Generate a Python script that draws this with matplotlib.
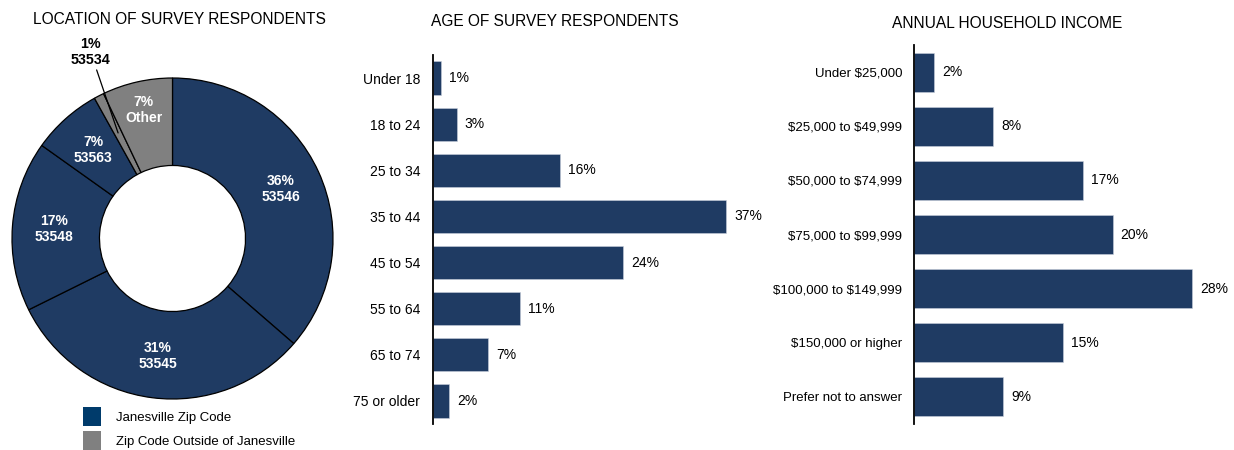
import numpy as np
import matplotlib
matplotlib.use('Agg')
import matplotlib.pyplot as plt
from matplotlib.patches import Patch

plt.rcParams['font.family'] = ['Liberation Sans', 'DejaVu Sans']
plt.rcParams['text.parse_math'] = False

NAVY = '#1f3b63'
LEGEND_NAVY = '#003b6b'
GRAY = '#808080'

# location of respondents (zip codes)
zip_labels = ['53546', '53545', '53548', '53563', '53534', 'Other']
zip_pcts = [36, 31, 17, 7, 1, 7]
zip_colors = [NAVY, NAVY, NAVY, NAVY, GRAY, GRAY]

# age groups
age_groups = ['Under 18', '18 to 24', '25 to 34', '35 to 44', '45 to 54',
              '55 to 64', '65 to 74', '75 or older']
age_pcts = [1, 3, 16, 37, 24, 11, 7, 2]

# household income
income_groups = ['Under $25,000', '$25,000 to $49,999', '$50,000 to $74,999',
                 '$75,000 to $99,999', '$100,000 to $149,999',
                 '$150,000 or higher', 'Prefer not to answer']
income_pcts = [2, 8, 17, 20, 28, 15, 9]

W, H = 1234, 450
fig = plt.figure(figsize=(W / 100, H / 100), dpi=100)


def px_axes(left, top, right, bottom):
    return fig.add_axes([left / W, 1 - bottom / H, (right - left) / W, (bottom - top) / H])


# ---- donut ----
ax1 = px_axes(12, 78, 333, 399)
wedges, _ = ax1.pie(zip_pcts, colors=zip_colors, startangle=90, counterclock=False,
                    radius=1.0, wedgeprops=dict(width=0.545, edgecolor='black', linewidth=0.9))
ax1.set_xlim(-1, 1)
ax1.set_ylim(-1, 1)
ax1.set_aspect('equal')

for w, lab, pct in zip(wedges, zip_labels, zip_pcts):
    ang = np.deg2rad((w.theta1 + w.theta2) / 2)
    if lab == '53534':
        ax1.annotate(f'{pct}%\n{lab}', xy=(0.74 * np.cos(ang), 0.74 * np.sin(ang)),
                     xytext=(-0.51, 1.16), ha='center', va='center', fontsize=10.3,
                     fontweight='bold', color='black', linespacing=1.15,
                     arrowprops=dict(arrowstyle='-', color='black', lw=0.9,
                                     shrinkA=0, shrinkB=0),
                     annotation_clip=False)
        continue
    r = 0.82 if lab == 'Other' else 0.74
    ax1.text(r * np.cos(ang), r * np.sin(ang), f'{pct}%\n{lab}', ha='center', va='center',
             fontsize=10, fontweight='bold', color='white', linespacing=1.2)

fig.text(179.5 / W, 1 - 20 / H, 'LOCATION OF SURVEY RESPONDENTS', ha='center', va='center',
         fontsize=11.2)

handles = [Patch(facecolor=LEGEND_NAVY), Patch(facecolor=GRAY)]
fig.legend(handles, ['Janesville Zip Code', 'Zip Code Outside of Janesville'],
           loc='upper left', bbox_to_anchor=(83 / W, 1 - 407 / H), frameon=False,
           fontsize=9.5, handlelength=1.4, handleheight=1.8, handletextpad=1.1,
           labelspacing=0.4, borderpad=0, borderaxespad=0)


# ---- horizontal bar panels ----
def bar_panel(ax, cats, vals, xmax, label_size, pad):
    y = np.arange(len(cats))
    bars = ax.barh(y, vals, height=0.72, color=NAVY, edgecolor='#c8d0dc', linewidth=0.4)
    ax.set_xlim(0, xmax)
    ax.set_ylim(len(cats) - 0.5, -0.5)
    ax.set_yticks(y)
    ax.set_yticklabels(cats, fontsize=label_size)
    ax.set_xticks([])
    ax.tick_params(axis='y', length=0, pad=pad)
    for s in ['top', 'right', 'bottom']:
        ax.spines[s].set_visible(False)
    ax.spines['left'].set_linewidth(1.3)
    for b, v in zip(bars, vals):
        ax.annotate(f'{v}%', xy=(b.get_width(), b.get_y() + b.get_height() / 2),
                    xytext=(8, 0), textcoords='offset pixels', ha='left', va='center',
                    fontsize=10, annotation_clip=False)


ax2 = px_axes(433, 55, 750, 424)
bar_panel(ax2, age_groups, age_pcts, 40, 10, 9.2)
fig.text(555 / W, 1 - 21 / H, 'AGE OF SURVEY RESPONDENTS', ha='center', va='center',
         fontsize=11.2)

ax3 = px_axes(914, 45, 1212, 424)
bar_panel(ax3, income_groups, income_pcts, 30, 9.5, 8.5)
fig.text(1007.5 / W, 1 - 23 / H, 'ANNUAL HOUSEHOLD INCOME', ha='center', va='center',
         fontsize=11.2)

fig.savefig('out.png', dpi=100, facecolor='white')
